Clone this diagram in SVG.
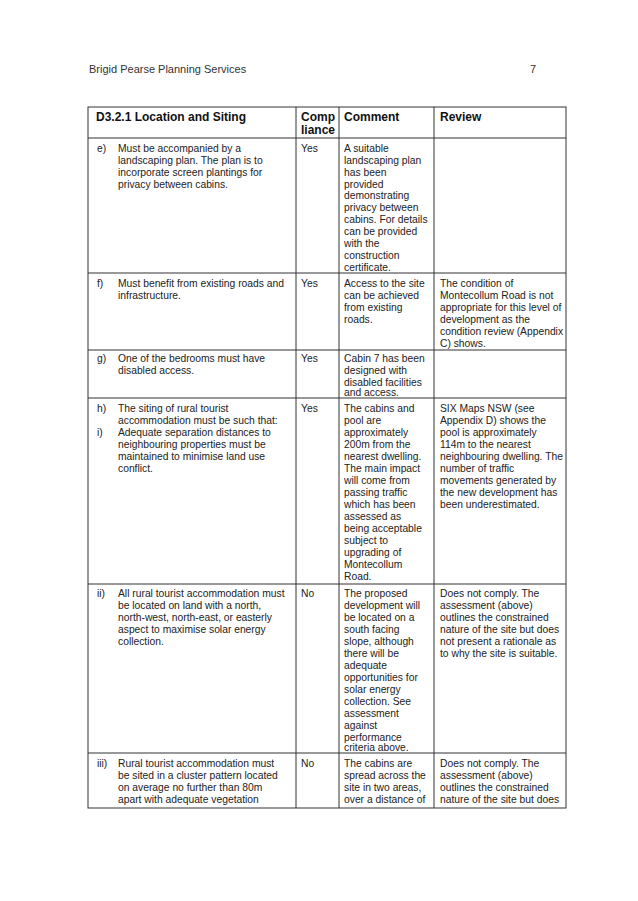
<svg xmlns="http://www.w3.org/2000/svg" width="638" height="901" viewBox="0 0 638 901">
<style>
text{font-family:"Liberation Sans",Arial,sans-serif;font-size:10.3px;fill:#222}
.h{font-size:12px;font-weight:bold;fill:#111}
.hd{font-size:11px;fill:#333}
line{stroke:#333;stroke-width:1}
</style>
<rect width="638" height="901" fill="#fff"/>
<text class="hd" x="89" y="73">Brigid Pearse Planning Services</text>
<text class="hd" x="530" y="73">7</text>
<g id="grid">
<rect x="88" y="107" width="478" height="701" fill="none" stroke="#333"/>
<line x1="296" y1="107" x2="296" y2="808"/>
<line x1="339" y1="107" x2="339" y2="808"/>
<line x1="434" y1="107" x2="434" y2="808"/>
<line x1="88" y1="138" x2="566" y2="138"/>
<line x1="88" y1="273" x2="566" y2="273"/>
<line x1="88" y1="350" x2="566" y2="350"/>
<line x1="88" y1="398" x2="566" y2="398"/>
<line x1="88" y1="584" x2="566" y2="584"/>
<line x1="88" y1="753" x2="566" y2="753"/>
</g>
<g id="header">
<text class="h" x="96" y="121">D3.2.1 Location and Siting</text>
<text class="h" x="301" y="121">Comp</text>
<text class="h" x="301" y="134">liance</text>
<text class="h" x="344" y="121">Comment</text>
<text class="h" x="440" y="121">Review</text>
</g>
<g id="row-e">
<text x="97" y="152">e)</text>
<text x="118" y="152">Must be accompanied by a</text>
<text x="118" y="164">landscaping plan. The plan is to</text>
<text x="118" y="176">incorporate screen plantings for</text>
<text x="118" y="188">privacy between cabins.</text>
<text x="301" y="152">Yes</text>
<text x="344" y="152">A suitable</text><text x="344" y="164">landscaping plan</text><text x="344" y="176">has been</text><text x="344" y="188">provided</text><text x="344" y="199">demonstrating</text><text x="344" y="211">privacy between</text><text x="344" y="223">cabins. For details</text><text x="344" y="235">can be provided</text><text x="344" y="247">with the</text><text x="344" y="259">construction</text><text x="344" y="271">certificate.</text>
</g>
<g id="row-f">
<text x="97" y="287">f)</text>
<text x="118" y="287">Must benefit from existing roads and</text>
<text x="118" y="299">infrastructure.</text>
<text x="301" y="287">Yes</text>
<text x="344" y="287">Access to the site</text><text x="344" y="299">can be achieved</text><text x="344" y="311">from existing</text><text x="344" y="323">roads.</text>
<text x="440" y="287">The condition of</text><text x="440" y="299">Montecollum Road is not</text><text x="440" y="311">appropriate for this level of</text><text x="440" y="323">development as the</text><text x="440" y="335">condition review (Appendix</text><text x="440" y="347">C) shows.</text>
</g>
<g id="row-g">
<text x="97" y="362">g)</text>
<text x="118" y="362">One of the bedrooms must have</text>
<text x="118" y="374">disabled access.</text>
<text x="301" y="362">Yes</text>
<text x="344" y="362">Cabin 7 has been</text><text x="344" y="374">designed with</text><text x="344" y="386">disabled facilities</text><text x="344" y="398" dy="-2">and access.</text>
</g>
<g id="row-h">
<text x="97" y="412">h)</text>
<text x="118" y="412">The siting of rural tourist</text>
<text x="118" y="424">accommodation must be such that:</text>
<text x="97" y="436">i)</text>
<text x="118" y="436">Adequate separation distances to</text>
<text x="118" y="448">neighbouring properties must be</text>
<text x="118" y="460">maintained to minimise land use</text>
<text x="118" y="472">conflict.</text>
<text x="301" y="412">Yes</text>
<text x="344" y="412">The cabins and</text><text x="344" y="424">pool are</text><text x="344" y="436">approximately</text><text x="344" y="448">200m from the</text><text x="344" y="460">nearest dwelling.</text><text x="344" y="472">The main impact</text><text x="344" y="484">will come from</text><text x="344" y="496">passing traffic</text><text x="344" y="508">which has been</text><text x="344" y="520">assessed as</text><text x="344" y="532">being acceptable</text><text x="344" y="544">subject to</text><text x="344" y="556">upgrading of</text><text x="344" y="568">Montecollum</text><text x="344" y="580">Road.</text>
<text x="440" y="412">SIX Maps NSW (see</text><text x="440" y="424">Appendix D) shows the</text><text x="440" y="436">pool is approximately</text><text x="440" y="448">114m to the nearest</text><text x="440" y="460">neighbouring dwelling. The</text><text x="440" y="472">number of traffic</text><text x="440" y="484">movements generated by</text><text x="440" y="496">the new development has</text><text x="440" y="508">been underestimated.</text>
</g>
<g id="row-ii">
<text x="97" y="597">ii)</text>
<text x="118" y="597">All rural tourist accommodation must</text>
<text x="118" y="609">be located on land with a north,</text>
<text x="118" y="621">north-west, north-east, or easterly</text>
<text x="118" y="633">aspect to maximise solar energy</text>
<text x="118" y="645">collection.</text>
<text x="301" y="597">No</text>
<text x="344" y="597">The proposed</text><text x="344" y="609">development will</text><text x="344" y="621">be located on a</text><text x="344" y="633">south facing</text><text x="344" y="645">slope, although</text><text x="344" y="657">there will be</text><text x="344" y="669">adequate</text><text x="344" y="681">opportunities for</text><text x="344" y="693">solar energy</text><text x="344" y="705">collection. See</text><text x="344" y="717">assessment</text><text x="344" y="729">against</text><text x="344" y="741">performance</text><text x="344" y="752" dy="-1">criteria above.</text>
<text x="440" y="597">Does not comply. The</text><text x="440" y="609">assessment (above)</text><text x="440" y="621">outlines the constrained</text><text x="440" y="633">nature of the site but does</text><text x="440" y="645">not present a rationale as</text><text x="440" y="657">to why the site is suitable.</text>
</g>
<g id="row-iii">
<text x="97" y="767">iii)</text>
<text x="118" y="767">Rural tourist accommodation must</text>
<text x="118" y="779">be sited in a cluster pattern located</text>
<text x="118" y="791">on average no further than 80m</text>
<text x="118" y="803">apart with adequate vegetation</text>
<text x="301" y="767">No</text>
<text x="344" y="767">The cabins are</text><text x="344" y="779">spread across the</text><text x="344" y="791">site in two areas,</text><text x="344" y="803">over a distance of</text>
<text x="440" y="767">Does not comply. The</text><text x="440" y="779">assessment (above)</text><text x="440" y="791">outlines the constrained</text><text x="440" y="803">nature of the site but does</text>
</g>
</svg>
